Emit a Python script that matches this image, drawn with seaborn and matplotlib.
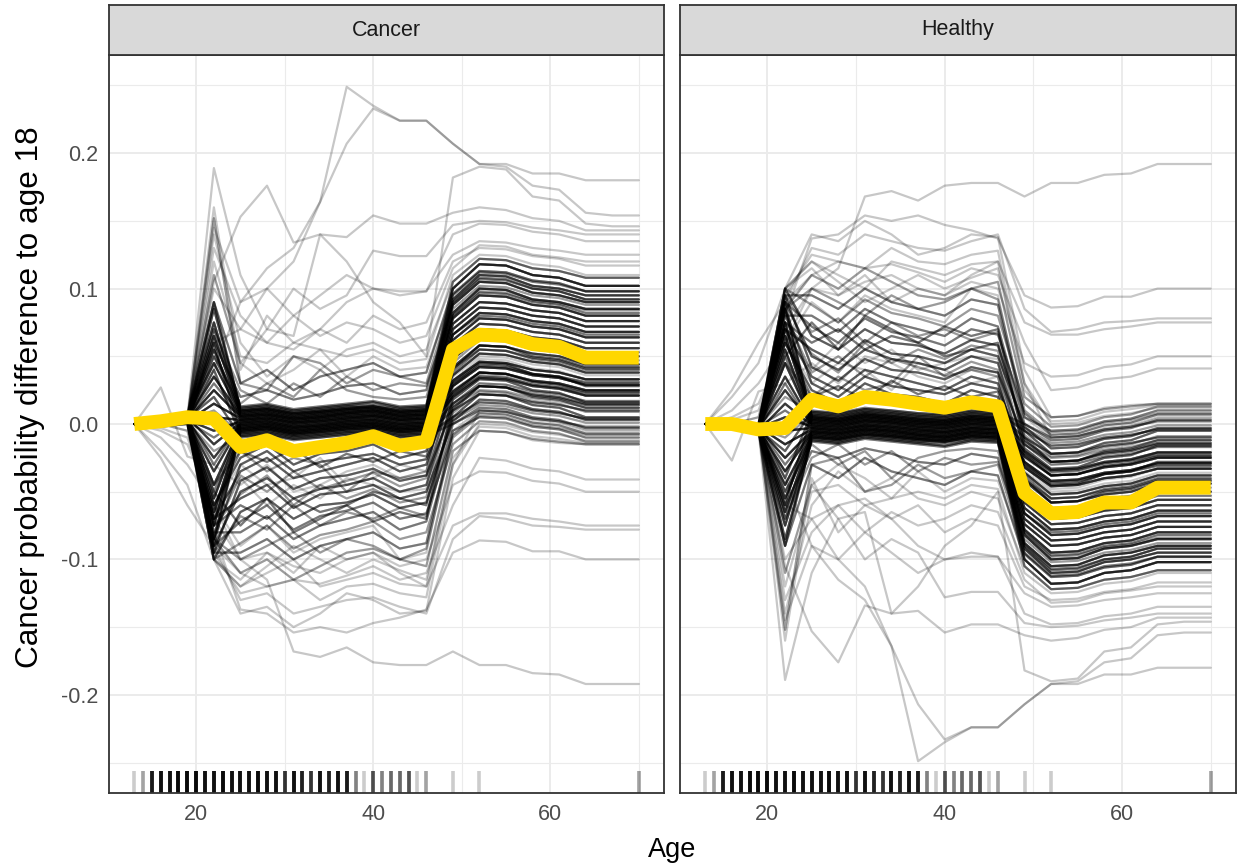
import numpy as np
import pandas as pd
import matplotlib
matplotlib.use("Agg")
import matplotlib.pyplot as plt
import seaborn as sns

# ---------------- data ----------------
age_grid = [13, 16, 19, 22, 25, 28, 31, 34, 37, 40, 43, 46, 49, 52, 55, 58, 61, 64, 67, 70]

pdp_cancer = [0.000, 0.002, 0.005, 0.004, -0.017, -0.012, -0.020, -0.017, -0.014, -0.009,
              -0.016, -0.013, 0.055, 0.066, 0.065, 0.059, 0.057, 0.049, 0.049, 0.049]
pdp_healthy = [0.000, 0.000, -0.004, -0.003, 0.018, 0.013, 0.020, 0.018, 0.015, 0.012,
               0.016, 0.013, -0.051, -0.066, -0.065, -0.058, -0.058, -0.047, -0.047, -0.047]

# ICE curves (Cancer class, in thousandths of probability); the Healthy class is the mirror image
ice_core = [
    [0, 0, 3, 85, 12, 14, 10, 12, 14, 16, 12, 13, 100, 118, 117, 110, 108, 102, 102, 102],
    [0, 0, 4, 75, 10, 12, 8, 10, 12, 13, 10, 11, 92, 110, 109, 102, 100, 95, 95, 95],
    [0, 0, 2, 65, 9, 11, 7, 9, 11, 12, 9, 10, 88, 105, 104, 97, 95, 90, 90, 90],
    [0, 0, 3, 55, 8, 10, 6, 8, 10, 11, 8, 9, 82, 100, 99, 92, 90, 85, 85, 85],
    [0, 0, 5, 45, 7, 9, 5, 7, 9, 10, 7, 8, 78, 95, 94, 88, 86, 80, 80, 80],
    [0, 0, 4, 35, 6, 8, 4, 6, 8, 9, 6, 7, 74, 90, 89, 84, 82, 76, 76, 76],
    [0, 0, 3, 25, 5, 7, 3, 5, 7, 8, 5, 6, 70, 86, 85, 80, 78, 72, 72, 72],
    [0, 0, 2, 15, 4, 6, 2, 4, 6, 7, 4, 5, 66, 82, 81, 76, 74, 68, 68, 68],
    [0, 0, 4, 5, 3, 5, 1, 3, 5, 6, 3, 4, 62, 78, 77, 72, 70, 64, 64, 64],
    [0, 0, 3, -5, 2, 4, 0, 2, 4, 5, 2, 3, 58, 74, 73, 68, 66, 60, 60, 60],
    [0, 0, 5, -15, 1, 3, -1, 1, 3, 4, 1, 2, 54, 70, 69, 64, 62, 56, 56, 56],
    [0, 0, 3, -25, 0, 2, -2, 0, 2, 3, 0, 1, 48, 64, 63, 58, 56, 50, 50, 50],
    [0, 0, 2, -35, -1, 1, -3, -1, 1, 2, -1, 0, 42, 58, 57, 52, 50, 44, 44, 44],
    [0, 0, 4, -45, -2, 0, -4, -2, 0, 1, -2, -1, 36, 52, 51, 46, 44, 38, 38, 38],
    [0, 0, 3, -55, -3, -1, -5, -3, -1, 0, -3, -2, 32, 46, 45, 40, 38, 33, 33, 33],
    [0, 0, 2, -65, -4, -2, -6, -4, -2, -1, -4, -3, 28, 42, 41, 36, 34, 29, 29, 29],
    [0, 0, 4, -75, -5, -3, -7, -5, -3, -2, -5, -4, 24, 38, 37, 32, 30, 25, 25, 25],
    [0, 0, 3, -85, -6, -4, -8, -6, -4, -3, -6, -5, 20, 34, 33, 28, 26, 21, 21, 21],
    [0, 0, 3, 60, -7, -5, -9, -7, -5, -4, -7, -6, 15, 28, 27, 22, 20, 15, 15, 15],
    [0, 0, 2, 40, -8, -6, -10, -8, -6, -5, -8, -7, 10, 22, 21, 16, 14, 10, 10, 10],
    [0, 0, 4, 20, -9, -7, -11, -9, -7, -6, -9, -8, 5, 16, 15, 10, 8, 4, 4, 4],
    [0, 0, 3, 0, -10, -8, -12, -10, -8, -7, -10, -9, 0, 10, 9, 4, 2, -2, -2, -2],
    [0, 0, 5, 90, 11, 13, 9, 11, 13, 14, 11, 12, 96, 113, 112, 106, 104, 98, 98, 98],
    [0, 0, 3, 70, 13, 15, 11, 13, 15, 17, 13, 14, 105, 122, 121, 115, 113, 108, 108, 108],
    [0, 0, 4, 50, 10, 11, 8, 9, 11, 13, 9, 10, 90, 107, 106, 100, 98, 92, 92, 92],
    [0, 0, 3, 30, 6, 7, 4, 5, 8, 10, 6, 7, 80, 97, 96, 90, 88, 82, 82, 82],
    [0, 0, 2, -10, 3, 4, 1, 2, 4, 6, 3, 4, 66, 80, 79, 74, 72, 66, 66, 66],
    [0, 0, 4, -30, 1, 2, -2, -1, 2, 3, 0, 1, 52, 67, 66, 61, 59, 53, 53, 53],
    [0, 0, 3, -50, -1, 0, -3, -2, 0, 1, -2, -1, 41, 55, 54, 49, 47, 41, 41, 41],
    [0, 0, 2, -70, -3, -2, -5, -4, -2, -1, -4, -3, 30, 43, 42, 37, 35, 31, 31, 31],
    [0, 0, 4, -90, -5, -4, -7, -6, -4, -3, -6, -5, 22, 35, 34, 29, 27, 23, 23, 23],
    [0, 0, 3, 10, -7, -6, -9, -8, -6, -5, -8, -7, 13, 25, 24, 19, 17, 12, 12, 12],
    [0, 0, 2, -20, -9, -8, -11, -10, -8, -7, -10, -9, 3, 14, 13, 8, 6, 1, 1, 1],
]
ice_core_n = [5, 6, 7, 7, 7, 7, 7, 7, 7, 6, 6, 6, 6, 6, 7, 7, 7, 6, 4, 4, 4, 3, 4, 3,
              3, 3, 3, 3, 3, 3, 3, 2, 2]

ice_lower = [
    [0, 0, 2, -70, -35, -25, -40, -35, -30, -25, -35, -30, 30, 45, 44, 37, 35, 28, 28, 28],
    [0, 0, 3, -90, -50, -40, -55, -48, -45, -40, -50, -45, 18, 33, 32, 25, 23, 16, 16, 16],
    [0, -2, 0, -100, -65, -55, -70, -60, -58, -52, -62, -58, 5, 22, 21, 14, 12, 5, 5, 5],
    [0, 0, 4, -80, -80, -68, -85, -75, -70, -65, -78, -72, 0, 12, 11, 5, 3, -3, -3, -3],
    [0, 0, 2, -95, -95, -85, -100, -90, -85, -80, -92, -88, -5, 5, 4, -2, -4, -10, -10, -10],
    [0, 0, 3, -60, -25, -15, -30, -22, -20, -15, -25, -20, 40, 58, 57, 50, 48, 42, 42, 42],
    [0, 27, -24, -30, -45, -30, -50, -45, -35, -30, -40, -38, 25, 38, 37, 31, 29, 22, 22, 22],
    [0, 0, 2, -75, -60, -70, -55, -65, -60, -50, -55, -60, 10, 28, 27, 20, 18, 12, 12, 12],
    [0, 0, 3, -85, -110, -100, -115, -105, -95, -92, -100, -105, -20, -5, -6, -11, -13, -15, -15, -15],
    [0, 0, 1, -100, -120, -105, -90, -100, -110, -100, -108, -115, -30, 0, -1, -6, -8, -12, -12, -12],
    [0, 0, 2, -50, -75, -55, -80, -70, -60, -72, -65, -70, 15, 30, 29, 24, 22, 17, 17, 17],
    [0, -3, -10, -65, -40, -60, -45, -55, -40, -45, -50, -48, 35, 50, 49, 44, 42, 36, 36, 36],
    [0, -10, -30, -60, -90, -75, -95, -85, -80, -75, -100, -95, -5, 10, 9, 4, 2, -4, -4, -4],
    [0, 0, 4, -45, -20, -35, -25, -30, -50, -35, -40, -35, 45, 62, 61, 55, 53, 47, 47, 47],
    [0, 0, 2, -100, -140, -135, -150, -140, -125, -130, -140, -138, -40, -5, -6, -12, -14, -15, -15, -15],
    [0, 0, 0, -95, -125, -120, -115, -130, -120, -118, -125, -128, -30, 10, 9, 3, 1, -5, -5, -5],
    [0, 0, 3, -85, -30, -20, -35, -28, -25, -22, -30, -26, 22, 38, 37, 31, 29, 24, 24, 24],
    [0, 0, 2, -95, -42, -32, -48, -40, -38, -33, -42, -38, 12, 28, 27, 21, 19, 14, 14, 14],
    [0, 0, 4, -70, -55, -45, -62, -52, -50, -45, -55, -50, 2, 18, 17, 11, 9, 3, 3, 3],
    [0, 0, 3, -90, -72, -60, -78, -68, -64, -58, -70, -66, -8, 8, 7, 1, -1, -7, -7, -7],
    [0, 0, 2, -100, -88, -75, -92, -82, -78, -72, -85, -80, -15, 2, 1, -5, -7, -13, -13, -13],
    [0, 0, 3, -60, -20, -28, -18, -32, -22, -28, -20, -24, 38, 55, 54, 48, 46, 40, 40, 40],
    [0, 0, 4, -80, -38, -50, -35, -48, -42, -36, -46, -40, 28, 44, 43, 37, 35, 30, 30, 30],
    [0, 0, 2, -75, -52, -38, -60, -45, -55, -48, -58, -54, 20, 36, 35, 29, 27, 21, 21, 21],
    [0, 0, 3, -95, -68, -78, -60, -75, -65, -70, -62, -68, 8, 24, 23, 17, 15, 9, 9, 9],
    [0, 0, 2, -85, -100, -90, -80, -95, -85, -90, -100, -92, -10, 6, 5, -1, -3, -8, -8, -8],
    [0, 0, 3, -100, -115, -95, -110, -90, -100, -95, -110, -120, -25, -2, -3, -9, -11, -14, -14, -14],
    [0, -5, -15, -60, -30, -45, -40, -25, -45, -40, -30, -35, 32, 48, 47, 41, 39, 33, 33, 33],
]
ice_lower_n = [4, 4, 4, 3, 3, 4, 1, 3, 2, 1, 3, 1, 1, 2, 1, 1,
               4, 4, 4, 3, 2, 3, 2, 2, 2, 2, 1, 1]

ice_upper = [
    [0, 0, 5, 90, 30, 40, 25, 35, 40, 45, 35, 38, 100, 118, 117, 110, 108, 102, 102, 102],
    [0, 0, 3, 120, 50, 45, 60, 55, 50, 55, 45, 48, 110, 125, 124, 118, 116, 110, 110, 110],
    [0, 0, 6, 100, 70, 60, 80, 65, 75, 70, 60, 65, 115, 132, 131, 125, 123, 120, 120, 120],
    [0, 0, 2, 60, 20, 25, 18, 22, 28, 30, 22, 25, 90, 108, 107, 100, 98, 92, 92, 92],
    [0, 0, 4, 145, 90, 100, 80, 95, 110, 100, 98, 98, 125, 135, 134, 130, 128, 125, 125, 125],
    [0, 0, 3, 160, 40, 80, 60, 70, 90, 100, 95, 98, 140, 148, 147, 142, 140, 135, 135, 135],
    [0, 0, 5, 189, 110, 70, 100, 85, 95, 128, 124, 124, 147, 150, 149, 145, 143, 140, 140, 140],
    [0, 0, 2, 105, 153, 176, 134, 140, 138, 154, 148, 148, 156, 160, 158, 152, 150, 143, 143, 143],
    [0, 0, 5, 40, 90, 115, 130, 164, 249, 235, 224, 224, 207, 192, 192, 185, 185, 180, 180, 180],
    [0, 0, 4, 60, 70, 100, 120, 164, 207, 233, 224, 224, 207, 192, 190, 176, 173, 156, 154, 154],
    [0, 0, 3, 110, 45, 70, 65, 140, 120, 90, 75, 50, 182, 190, 188, 168, 165, 148, 146, 146],
    [0, 0, 4, 152, 30, 25, 50, 45, 30, 40, 35, 30, 95, 112, 111, 105, 103, 98, 98, 98],
    [0, 0, 2, 140, 60, 35, 50, 40, 55, 60, 50, 55, 105, 122, 121, 115, 113, 108, 108, 108],
    [0, 0, 3, 70, 25, 15, 30, 20, 35, 25, 30, 28, 85, 102, 101, 95, 93, 88, 88, 88],
    [0, 0, 5, 110, 45, 30, 40, 55, 35, 50, 40, 42, 95, 112, 111, 105, 103, 98, 98, 98],
    [0, 0, 2, 50, 15, 30, 20, 40, 25, 20, 18, 20, 80, 98, 97, 91, 89, 84, 84, 84],
    [0, 0, 4, 130, 80, 60, 55, 70, 60, 80, 70, 75, 120, 130, 129, 124, 122, 117, 117, 117],
]
ice_upper_n = [3, 1, 1, 3, 1, 1, 1, 1, 1, 1, 1, 2, 1, 2, 1, 2, 1]

ice_outlier = [
    [0, 0, 0, -60, -100, -115, -168, -172, -165, -176, -178, -178, -168, -178, -178, -184, -185, -192, -192, -192],
    [0, 0, -5, -80, -137, -140, -154, -150, -154, -147, -143, -137, -95, -86, -87, -94, -94, -100, -100, -100],
    [0, 0, 0, -90, -130, -125, -140, -135, -130, -128, -135, -140, -85, -68, -70, -75, -76, -78, -78, -78],
    [0, -20, -45, -100, -120, -110, -100, -120, -115, -110, -118, -120, -75, -66, -66, -70, -72, -75, -75, -75],
    [0, 0, -5, -70, -100, -95, -105, -110, -100, -95, -105, -100, -45, -35, -36, -42, -44, -50, -50, -50],
    [0, -25, -60, -90, -110, -120, -115, -118, -112, -105, -115, -110, -60, -25, -27, -33, -35, -41, -41, -41],
]
ice_outlier_n = [1, 1, 1, 1, 1, 1]

rug_ages = [13, 14, 15, 16, 17, 18, 19, 20, 21, 22, 23, 24, 25, 26, 27, 28, 29, 30, 31, 32,
            33, 34, 35, 36, 37, 38, 39, 40, 41, 42, 43, 44, 45, 46, 49, 52, 70]
rug_counts = [1, 2, 10, 12, 12, 14, 14, 14, 12, 12, 14, 12, 12, 12, 14, 12, 12, 7, 12, 9,
              7, 12, 9, 12, 10, 3, 1, 5, 3, 4, 4, 5, 1, 2, 1, 1, 2]

panels = ["Cancer", "Healthy"]

# ---------------- build tables ----------------
rows = []
cid = 0
for curves, counts in [(ice_core, ice_core_n), (ice_lower, ice_lower_n),
                       (ice_upper, ice_upper_n), (ice_outlier, ice_outlier_n)]:
    for curve, n in zip(curves, counts):
        for _ in range(n):
            for a, v in zip(age_grid, curve):
                rows.append((cid, a, v / 1000.0))
            cid += 1
ice = pd.DataFrame(rows, columns=["id", "age", "cancer"])
ice["healthy"] = -ice["cancer"]
pdp = pd.DataFrame({"age": age_grid, "Cancer": pdp_cancer, "Healthy": pdp_healthy})
rug = np.repeat(rug_ages, rug_counts)

# ---------------- figure ----------------
sns.set_theme(style="white")
plt.rcParams["font.family"] = ["Liberation Sans", "DejaVu Sans"]

W, H = 1238, 865
fig = plt.figure(figsize=(W / 100, H / 100), dpi=100)

panel_px = [(109, 664), (680, 1236)]
top_px, bot_px, strip_top_px = 55, 793, 5
dark = "#333333"
grid_c = "#EBEBEB"

for i, (name, (l, r)) in enumerate(zip(panels, panel_px)):
    ax = fig.add_axes([l / W, 1 - bot_px / H, (r - l) / W, (bot_px - top_px) / H])
    col = "cancer" if name == "Cancer" else "healthy"
    sns.lineplot(data=ice, x="age", y=col, units="id", estimator=None, color="black",
                 alpha=0.22, lw=1.6, ax=ax, legend=False, sort=True,
                 solid_joinstyle="round")
    sns.lineplot(data=pdp, x="age", y=name, color="#FFD700", lw=10, ax=ax,
                 solid_capstyle="butt", solid_joinstyle="round", legend=False)
    sns.rugplot(x=rug, height=0.03, color="black", alpha=0.2, linewidth=2.6, ax=ax)

    ax.set_xlim(10.15, 72.85)
    ax.set_ylim(-0.2725, 0.2725)
    ax.set_xticks([20, 40, 60])
    ax.set_xticks([30, 50, 70], minor=True)
    ax.set_yticks([-0.2, -0.1, 0.0, 0.1, 0.2])
    ax.set_yticks([-0.25, -0.15, -0.05, 0.05, 0.15, 0.25], minor=True)
    ax.set_yticklabels(["-0.2", "-0.1", "0.0", "0.1", "0.2"])
    ax.grid(True, which="major", color=grid_c, lw=1.4)
    ax.grid(True, which="minor", color=grid_c, lw=0.8)
    ax.set_axisbelow(True)
    for s in ax.spines.values():
        s.set_visible(True)
        s.set_color(dark)
        s.set_linewidth(1.3)
    ax.tick_params(axis="both", which="major", length=5, width=1.3, color=dark,
                   labelsize=15.5, labelcolor="#4D4D4D", pad=3)
    ax.tick_params(axis="both", which="minor", length=0)
    ax.set_xlabel("")
    ax.set_ylabel("")
    if i == 1:
        ax.tick_params(axis="y", which="both", left=False, labelleft=False)

    # facet strip
    sax = fig.add_axes([l / W, 1 - top_px / H, (r - l) / W, (top_px - strip_top_px) / H])
    sax.set_facecolor("#D9D9D9")
    sax.set_xticks([])
    sax.set_yticks([])
    for s in sax.spines.values():
        s.set_visible(True)
        s.set_color(dark)
        s.set_linewidth(1.3)
    sax.text(0.5, 0.5, name, ha="center", va="center", fontsize=15.5, color="#1A1A1A",
             transform=sax.transAxes)

fig.text((109 + 1236) / 2 / W, 1 - 850 / H, "Age", ha="center", va="center",
         fontsize=19.5, color="black")
fig.text(30 / W, 1 - 397 / H, "Cancer probability difference to age 18", ha="center",
         va="center", rotation=90, fontsize=22.7, color="black")

fig.savefig("out.png", dpi=100)
